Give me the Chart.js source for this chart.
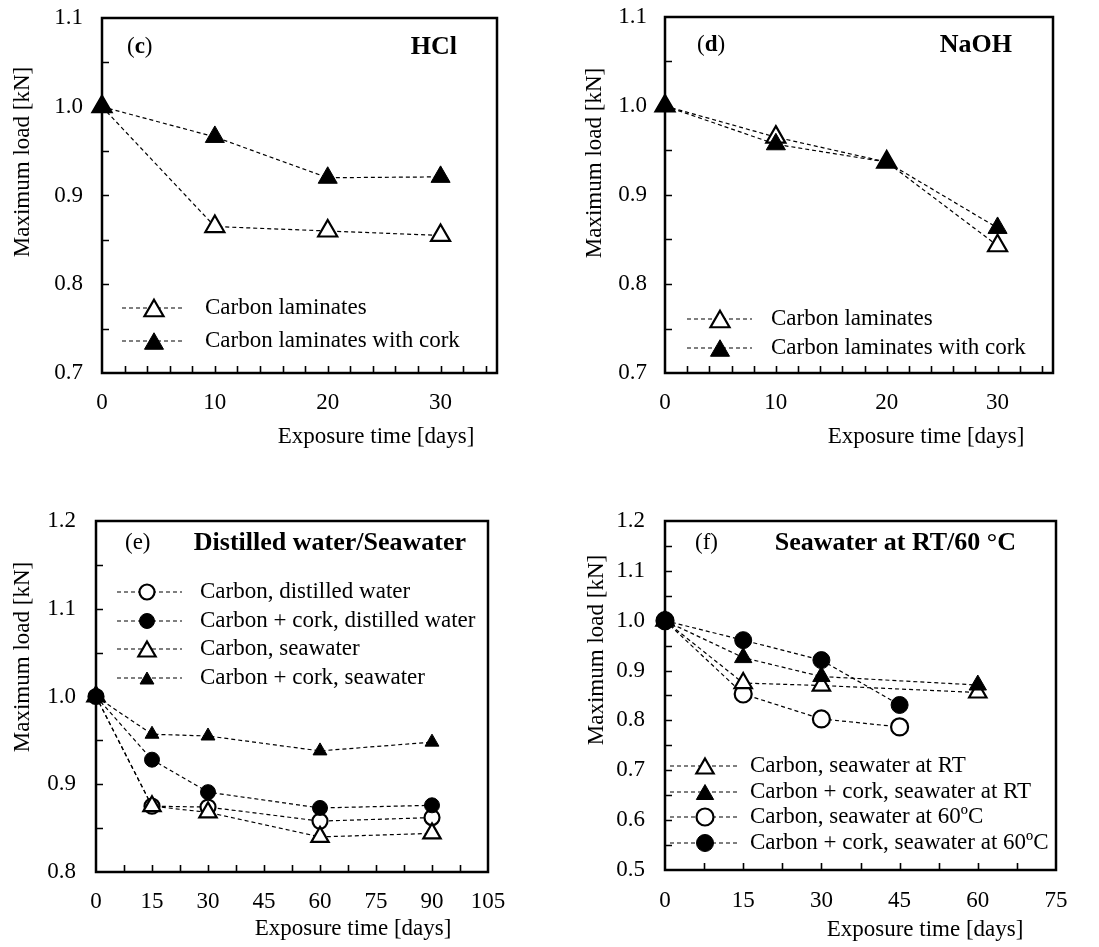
<!DOCTYPE html>
<html>
<head>
<meta charset="utf-8">
<title>Maximum load vs exposure time</title>
<script src="https://cdn.jsdelivr.net/npm/chart.js@4.4.1/dist/chart.umd.min.js"></script>
<style>
  body { margin: 0; background: #fff; }
  #wrap { position: relative; width: 1099px; height: 947px; }
  canvas { position: absolute; }
</style>
</head>
<body>
<div id="wrap">
  <canvas id="chartC" width="549" height="470" style="left:0px;top:0px"></canvas>
  <canvas id="chartD" width="549" height="470" style="left:550px;top:0px"></canvas>
  <canvas id="chartE" width="549" height="477" style="left:0px;top:470px"></canvas>
  <canvas id="chartF" width="549" height="477" style="left:550px;top:470px"></canvas>
</div>
<script>
// ---- data ----
// (c) HCl
const cDays = [0, 10, 20, 30];
const cCarbon = [1.0, 0.865, 0.860, 0.855];
const cCork = [1.0, 0.966, 0.920, 0.921];
// (d) NaOH
const dDays = [0, 10, 20, 30];
const dCarbon = [1.0, 0.965, 0.937, 0.843];
const dCork = [1.0, 0.957, 0.937, 0.863];
// (e) distilled water / seawater
const eDays = [0, 15, 30, 60, 90];
const eCarbonDW = [1.0, 0.875, 0.874, 0.858, 0.862];
const eCorkDW = [1.0, 0.928, 0.891, 0.873, 0.876];
const eCarbonSW = [1.0, 0.875, 0.868, 0.840, 0.844];
const eCorkSW = [1.0, 0.957, 0.955, 0.938, 0.948];
// (f) seawater at RT / 60 C
const fDaysRT = [0, 15, 30, 60];
const fDays60 = [0, 15, 30, 45];
const fCarbonRT = [1.0, 0.875, 0.870, 0.856];
const fCorkRT = [1.0, 0.926, 0.888, 0.871];
const fCarbon60 = [1.0, 0.853, 0.803, 0.787];
const fCork60 = [1.0, 0.961, 0.921, 0.831];

const labC = ["Carbon laminates", "Carbon laminates with cork"];
const labE = ["Carbon, distilled water", "Carbon + cork, distilled water", "Carbon, seawater", "Carbon + cork, seawater"];
const labF = ["Carbon, seawater at RT", "Carbon + cork, seawater at RT", "Carbon, seawater at 60\u00baC", "Carbon + cork, seawater at 60\u00baC"];

const SERIF = "'Liberation Serif', 'Times New Roman', serif";
Chart.defaults.font.family = SERIF;
Chart.defaults.font.size = 23;
Chart.defaults.color = '#000';

// order: lower number is drawn on top
function series(label, xs, ys, shape, open, r, order) {
  return {
    label: label,
    data: xs.map(function (x, i) { return { x: x, y: ys[i] }; }),
    order: order,
    borderColor: '#000',
    borderWidth: 1.2,
    borderDash: [4, 3],
    pointStyle: shape,
    pointRadius: r,
    pointHoverRadius: r,
    pointBackgroundColor: open ? '#fff' : '#000',
    pointBorderColor: '#000',
    pointBorderWidth: open ? 2.2 : 1,
    fill: false,
    tension: 0,
    clip: false,
    open: open
  };
}

function drawMarker(ctx, shape, x, y, r, open) {
  ctx.beginPath();
  if (shape == 'triangle') {
    y = y + r * 0.25;
    ctx.moveTo(x, y - r);
    ctx.lineTo(x + 0.866 * r, y + 0.5 * r);
    ctx.lineTo(x - 0.866 * r, y + 0.5 * r);
    ctx.closePath();
  } else {
    ctx.arc(x, y, r, 0, Math.PI * 2);
  }
  ctx.fillStyle = open ? '#fff' : '#000';
  ctx.fill();
  ctx.lineWidth = open ? 2.2 : 1;
  ctx.strokeStyle = '#000';
  ctx.stroke();
}

// frame, inward ticks, texts and the in-plot legend
const panelDecor = {
  id: 'panelDecor',
  beforeDatasetsDraw(chart, args, o) {
    const ctx = chart.ctx, a = chart.chartArea;
    const xs = chart.scales.x, ys = chart.scales.y;
    ctx.save();
    ctx.strokeStyle = '#000';
    ctx.lineWidth = 1.6;
    ctx.beginPath();
    for (let v = xs.min + o.xMinor; v < xs.max - 1e-6; v += o.xMinor) {
      const px = Math.round(xs.getPixelForValue(v)) + 0.5;
      ctx.moveTo(px, a.bottom);
      ctx.lineTo(px, a.bottom - 7);
    }
    for (let v = ys.min + o.yMinor; v < ys.max - 1e-6; v += o.yMinor) {
      const py = Math.round(ys.getPixelForValue(v)) + 0.5;
      ctx.moveTo(a.left, py);
      ctx.lineTo(a.left + 7, py);
    }
    ctx.stroke();
    ctx.lineWidth = 2.5;
    ctx.strokeRect(a.left, a.top, a.right - a.left, a.bottom - a.top);
    ctx.restore();
  },
  afterDraw(chart, args, o) {
    const ctx = chart.ctx;
    ctx.save();
    ctx.fillStyle = '#000';
    ctx.textBaseline = 'middle';
    // axis titles
    ctx.font = '23px ' + SERIF;
    ctx.textAlign = 'center';
    ctx.fillText('Exposure time [days]', o.xTitle[0], o.xTitle[1]);
    ctx.save();
    ctx.translate(o.yTitle[0], o.yTitle[1]);
    ctx.rotate(-Math.PI / 2);
    ctx.fillText('Maximum load [kN]', 0, 0);
    ctx.restore();
    // panel letter
    ctx.textAlign = 'left';
    let x = o.letterPos[0];
    ctx.font = '23px ' + SERIF;
    ctx.fillText('(', x, o.letterPos[1]);
    x += ctx.measureText('(').width;
    ctx.font = (o.letterBold ? 'bold ' : '') + '23px ' + SERIF;
    ctx.fillText(o.letter, x, o.letterPos[1]);
    x += ctx.measureText(o.letter).width;
    ctx.font = '23px ' + SERIF;
    ctx.fillText(')', x, o.letterPos[1]);
    // panel title
    ctx.font = 'bold 26px ' + SERIF;
    ctx.textAlign = 'right';
    ctx.fillText(o.title, o.titlePos[0], o.titlePos[1]);
    // legend
    const L = o.legend;
    chart.data.datasets.forEach(function (ds, i) {
      const y = L.rows[i];
      ctx.save();
      ctx.strokeStyle = '#000';
      ctx.lineWidth = 1.2;
      ctx.setLineDash([4, 3]);
      ctx.beginPath();
      ctx.moveTo(L.x1, y);
      ctx.lineTo(L.x2, y);
      ctx.stroke();
      ctx.restore();
      drawMarker(ctx, ds.pointStyle, L.mx, y, ds.pointRadius, ds.open);
      ctx.fillStyle = '#000';
      ctx.font = '23px ' + SERIF;
      ctx.textAlign = 'left';
      ctx.textBaseline = 'middle';
      ctx.fillText(ds.label, L.tx, y);
    });
    ctx.restore();
  }
};

function makePanel(id, datasets, ax, g, deco) {
  return new Chart(document.getElementById(id), {
    type: 'line',
    data: { datasets: datasets },
    plugins: [panelDecor],
    options: {
      responsive: false,
      animation: false,
      events: [],
      layout: { padding: { left: 0, top: g.top, right: g.right, bottom: 0 } },
      plugins: {
        legend: { display: false },
        tooltip: { enabled: false },
        panelDecor: deco
      },
      scales: {
        x: {
          type: 'linear',
          min: ax.xMin, max: ax.xMax,
          grid: { display: false, drawTicks: false },
          border: { display: false },
          ticks: { stepSize: ax.xStep, includeBounds: false, autoSkip: false, maxRotation: 0, padding: g.xPad },
          afterFit: function (s) { s.height = g.xh; s.paddingLeft = 0; s.paddingRight = 0; }
        },
        y: {
          type: 'linear',
          min: ax.yMin, max: ax.yMax,
          grid: { display: false, drawTicks: false },
          border: { display: false },
          ticks: { stepSize: 0.1, padding: g.yPad, callback: function (v) { return v.toFixed(1); } },
          afterFit: function (s) { s.width = g.left; s.paddingTop = 0; s.paddingBottom = 0; }
        }
      }
    }
  });
}

makePanel('chartC', [
  series(labC[0], cDays, cCarbon, 'triangle', true, 11, 1),
  series(labC[1], cDays, cCork, 'triangle', false, 11, 0)
], { xMin: 0, xMax: 35, xStep: 10, yMin: 0.7, yMax: 1.1 },
{ left: 102, top: 18, right: 52, xh: 97, xPad: 16, yPad: 19 },
{ xMinor: 2, yMinor: 0.05, xTitle: [376, 437], yTitle: [23, 162], letter: 'c', letterBold: true,
  letterPos: [127, 47], title: 'HCl', titlePos: [457, 47],
  legend: { x1: 122, x2: 185, mx: 154, tx: 205, rows: [308, 341] } });

makePanel('chartD', [
  series(labC[0], dDays, dCarbon, 'triangle', true, 11, 1),
  series(labC[1], dDays, dCork, 'triangle', false, 11, 0)
], { xMin: 0, xMax: 35, xStep: 10, yMin: 0.7, yMax: 1.1 },
{ left: 115, top: 17, right: 46, xh: 97, xPad: 16, yPad: 18 },
{ xMinor: 2, yMinor: 0.05, xTitle: [376, 437], yTitle: [45, 163], letter: 'd', letterBold: true,
  letterPos: [147, 45], title: 'NaOH', titlePos: [462, 45],
  legend: { x1: 137, x2: 202, mx: 170, tx: 221, rows: [319, 348] } });

makePanel('chartE', [
  series(labE[0], eDays, eCarbonDW, 'circle', true, 7.5, 3),
  series(labE[1], eDays, eCorkDW, 'circle', false, 7.5, 0),
  series(labE[2], eDays, eCarbonSW, 'triangle', true, 10, 2),
  series(labE[3], eDays, eCorkSW, 'triangle', false, 8, 1)
], { xMin: 0, xMax: 105, xStep: 15, yMin: 0.8, yMax: 1.2 },
{ left: 96, top: 51, right: 61, xh: 75, xPad: 16, yPad: 20 },
{ xMinor: 7.5, yMinor: 0.05, xTitle: [353, 459], yTitle: [23, 187], letter: 'e', letterBold: false,
  letterPos: [125, 73], title: 'Distilled water/Seawater', titlePos: [466, 73],
  legend: { x1: 117, x2: 182, mx: 147, tx: 200, rows: [122, 151, 179, 208] } });

makePanel('chartF', [
  series(labF[0], fDaysRT, fCarbonRT, 'triangle', true, 10, 2),
  series(labF[1], fDaysRT, fCorkRT, 'triangle', false, 10, 1),
  series(labF[2], fDays60, fCarbon60, 'circle', true, 8.5, 3),
  series(labF[3], fDays60, fCork60, 'circle', false, 8.5, 0)
], { xMin: 0, xMax: 75, xStep: 15, yMin: 0.5, yMax: 1.2 },
{ left: 115, top: 51, right: 43, xh: 77, xPad: 17, yPad: 20 },
{ xMinor: 7.5, yMinor: 0.05, xTitle: [375, 460], yTitle: [47, 180], letter: 'f', letterBold: false,
  letterPos: [145, 73], title: 'Seawater at RT/60 \u00b0C', titlePos: [466, 73],
  legend: { x1: 120, x2: 187, mx: 155, tx: 200, rows: [296, 322, 347, 373] } });
</script>
</body>
</html>
